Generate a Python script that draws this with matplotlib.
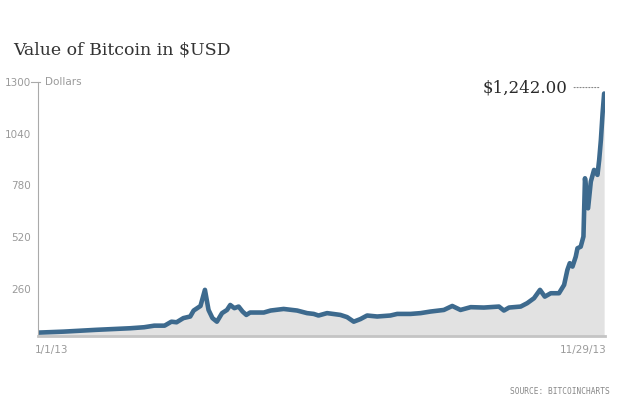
import numpy as np
import matplotlib
matplotlib.use('Agg')
import matplotlib.pyplot as plt
import matplotlib.dates as mdates
from matplotlib.transforms import ScaledTranslation

# days since 1/1/13 and price in USD
days = [0, 15, 34, 54, 62, 68, 74, 78, 81, 85, 89, 91, 95, 97.6, 99.7, 102, 104.6,
        107.6, 110.5, 112.4, 114.8, 117.3, 119.6, 121.8, 124, 132, 136, 143.6, 151.5,
        157.3, 161.2, 164, 169, 176.8, 180.7, 184.6, 188.5, 192.4, 198.3, 206, 210,
        217.8, 223.7, 229.5, 237.3, 242.2, 247, 253, 260.7, 269.5, 272.4, 275.4, 282.2,
        286, 290, 293.5, 296.3, 299.8, 304.6, 307.6, 309.5, 310.9, 312.5, 314.4, 315.4,
        317.3, 318.9, 319.8, 321.6, 323.2, 325.1, 327.1, 328.1, 329.1, 330.1, 331]
price = [40, 45, 54, 62, 67, 75, 75, 95, 92, 113, 121, 151, 174, 255, 154, 113, 95,
         138, 154, 179, 163, 171, 146, 129, 141, 141, 151, 159, 151,
         138, 134, 126, 138, 129, 118, 95, 108, 126, 121, 126, 134,
         134, 138, 146, 154, 174, 154, 168, 166, 171, 151, 166, 171,
         188, 213, 255, 221, 238, 238, 280, 355, 389, 372, 422, 464,
         472, 523, 816, 665, 799, 858, 833, 908, 1009, 1144, 1242]
yticks = [260, 520, 780, 1040, 1300]

start = np.datetime64('2013-01-01T00:00')
dates = start + (np.array(days) * 24 * 60).astype('timedelta64[m]')

narrow = ['Liberation Sans Narrow', 'DejaVu Sans']
gray = '#9a9a9a'

fig = plt.figure(figsize=(6.25, 4.17), dpi=100)
ax = fig.add_axes([38 / 625, 1 - 336 / 417, 567 / 625, (336 - 82) / 417])

ax.fill_between(dates, price, 0, color='#e2e2e2', lw=0)
ax.plot(dates, price, color='#3d6a8e', lw=3.3, solid_joinstyle='round', solid_capstyle='round')

ax.set_xlim(start, dates[-1] + np.timedelta64(12, 'h'))
ax.set_ylim(23, 1300)

for s in ['top', 'right']:
    ax.spines[s].set_visible(False)
ax.spines['left'].set_color('#aaaaaa')
ax.spines['left'].set_linewidth(0.8)
ax.spines['bottom'].set_color('#c4c4c4')
ax.spines['bottom'].set_linewidth(2)

ax.set_yticks(yticks)
ax.set_yticklabels([str(t) for t in yticks])
ax.tick_params(axis='y', length=0, pad=5, labelcolor=gray, labelsize=7.5)
for lab in ax.get_yticklabels():
    lab.set_family(narrow)
ax.plot([-0.012, 0.004], [1, 1], transform=ax.transAxes, color='#aaaaaa', lw=0.8, clip_on=False)
ax.text(0.012, 1, 'Dollars', transform=ax.transAxes, va='center', ha='left',
        color=gray, fontsize=7.5, family=narrow)

ax.set_xticks([])
ax.text(-0.005, -0.035, '1/1/13', transform=ax.transAxes, ha='left', va='top',
        color=gray, fontsize=7.5, family=narrow)
ax.text(1.003, -0.035, '11/29/13', transform=ax.transAxes, ha='right', va='top',
        color=gray, fontsize=7.5, family=narrow)

# last-value callout, dotted leader level with the label
lifted = ax.transData + ScaledTranslation(0, 6 / 100, fig.dpi_scale_trans)
ax.annotate('\\$1,242.00', xy=(mdates.date2num(dates[-1]), price[-1]), xycoords=lifted,
            xytext=(-37, 0), textcoords='offset pixels', ha='right', va='center',
            fontsize=12, family='DejaVu Serif', color='#2b2b2b',
            arrowprops=dict(arrowstyle='-', linestyle=':', color='#888888', lw=0.8,
                            shrinkA=3, shrinkB=3))

fig.text(13 / 625, 1 - 50 / 417, 'Value of Bitcoin in \\$USD', ha='left', va='center',
         fontsize=12.5, family='DejaVu Serif', color='#333333')
fig.text(610 / 625, 1 - 391 / 417, 'SOURCE: BITCOINCHARTS', ha='right', va='center',
         fontsize=5.7, family='DejaVu Sans Mono', color='#888888')

fig.savefig('out.png', dpi=100)
